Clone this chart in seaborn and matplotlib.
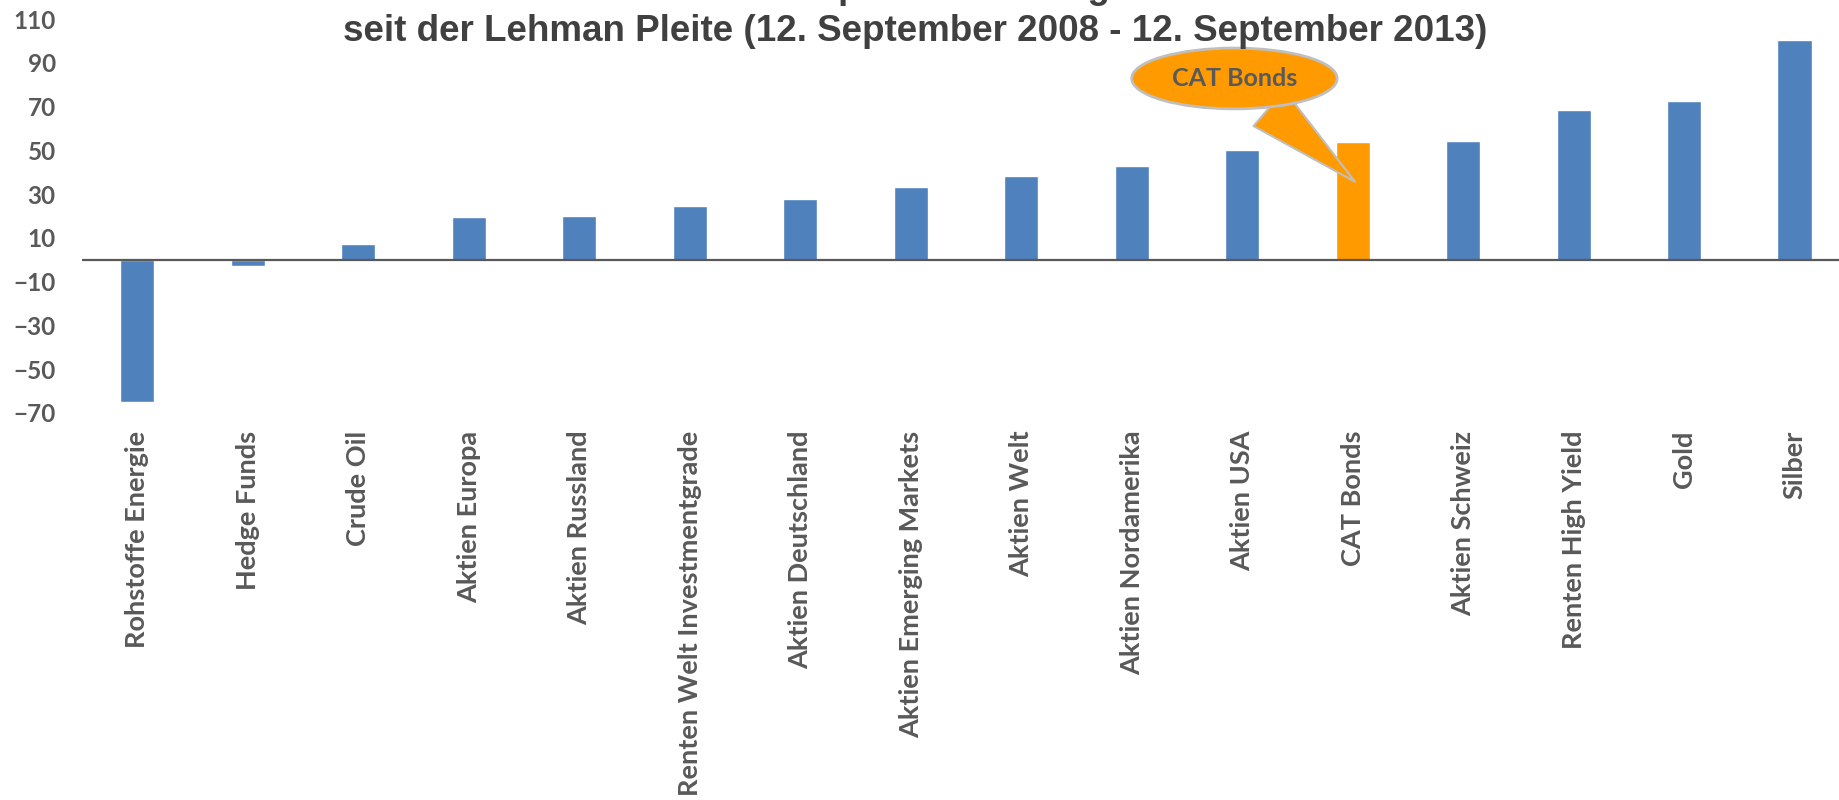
import matplotlib.pyplot as plt
import pandas as pd
import seaborn as sns

# Daten: Performance in % seit der Lehman Pleite
kategorien = ['Rohstoffe Energie', 'Hedge Funds', 'Crude Oil', 'Aktien Europa',
              'Aktien Russland', 'Renten Welt Investmentgrade', 'Aktien Deutschland',
              'Aktien Emerging Markets', 'Aktien Welt', 'Aktien Nordamerika',
              'Aktien USA', 'CAT Bonds', 'Aktien Schweiz', 'Renten High Yield',
              'Gold', 'Silber']
performance = [-65.0, -3.0, 7.2, 19.5, 19.8, 24.6, 27.8, 33.2, 38.2, 43.0,
               50.3, 53.7, 54.4, 68.7, 72.8, 100.5]
y_ticks = [-70, -50, -30, -10, 10, 30, 50, 70, 90, 110]

# erste Titelzeile ist im Original oben abgeschnitten
titel_1 = 'Performance der Kapitalmarktanlagen in Prozent'
titel_2 = 'seit der Lehman Pleite (12. September 2008 - 12. September 2013)'
hervorheben = 'CAT Bonds'

BLAU = '#4F81BD'
ORANGE = '#FF9A00'
GRAU = '#595959'

df = pd.DataFrame({'kategorie': kategorien, 'wert': performance})
farben = {k: (ORANGE if k == hervorheben else BLAU) for k in kategorien}

sns.set_style('white')
plt.rcParams['font.family'] = ['Lato', 'DejaVu Sans']
plt.rcParams['font.weight'] = 'bold'

fig = plt.figure(figsize=(18.39, 8), dpi=100)
ax = fig.add_axes([0.0446, 0.484, 0.9613, 0.492])

sns.barplot(data=df, x='kategorie', y='wert', hue='kategorie', palette=farben,
            legend=False, width=0.31, saturation=1, ax=ax)

ax.set_xlim(-0.5, len(kategorien) - 0.5)
ax.set_ylim(-70, 110)
ax.set_yticks(y_ticks)
ax.axhline(0, color=GRAU, lw=1.6, zorder=5)
sns.despine(ax=ax, left=True, bottom=True)
ax.set_xlabel('')
ax.set_ylabel('')

ax.tick_params(axis='y', length=0, pad=19, labelsize=17.5, labelcolor=GRAU)
ax.tick_params(axis='x', length=0, pad=13, labelsize=19.5, labelcolor=GRAU,
               labelrotation=90)

# Titel
titel_font = ['Liberation Sans', 'DejaVu Sans']
fig.text(0.4975, 1.003, titel_1, ha='center', va='baseline', fontsize=26.5,
         fontweight='bold', color='#404040', family=titel_font)
fig.text(0.4975, 0.9488, titel_2, ha='center', va='baseline', fontsize=26.5,
         fontweight='bold', color='#404040', family=titel_font)

# Sprechblase für CAT Bonds
idx = kategorien.index(hervorheben)
ax.annotate(hervorheben, xy=(idx + 0.02, 35.7), xytext=(idx - 1.07, 82.9),
            ha='center', va='center', fontsize=18, color=GRAU,
            bbox=dict(boxstyle='ellipse,pad=0.4', fc=ORANGE, ec='#BFBFBF', lw=2),
            arrowprops=dict(arrowstyle='wedge,tail_width=1.9', fc=ORANGE, ec='#BFBFBF',
                            lw=1.5, shrinkA=0, shrinkB=0),
            zorder=10)

fig.savefig('out.png', dpi=100)
